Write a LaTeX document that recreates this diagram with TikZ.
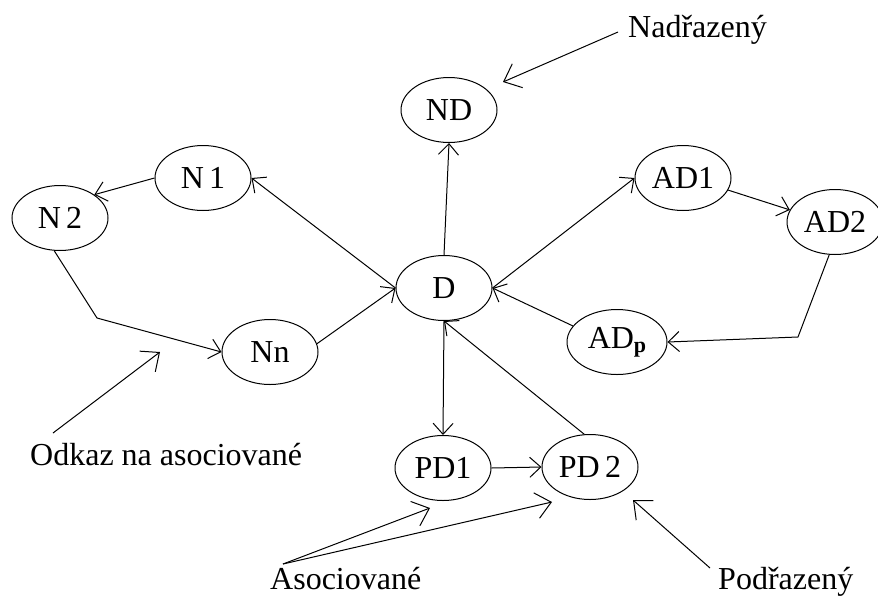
\documentclass[tikz,border=0pt]{standalone}
\usepackage{fontspec}
\setmainfont{Liberation Serif}
\usetikzlibrary{shapes.geometric,arrows.meta}
\begin{document}
\begin{tikzpicture}[x=1pt,y=-1pt,
  ent/.style={draw,ellipse,line width=1pt,minimum width=96pt,minimum height=65pt,inner sep=0pt,font=\fontsize{32}{32}\selectfont},
  lbl/.style={font=\fontsize{32}{32}\selectfont,inner sep=0pt,anchor=base west},
  link/.style={line width=1pt,-{Straight Barb[length=11pt,width=20pt,line width=1pt]}},
  pointer/.style={line width=1pt,-{Straight Barb[length=15pt,width=26pt,line width=1pt]}}]
\useasboundingbox[fill=white] (0,0) rectangle (878,598);

% entity ellipses
\node[ent] (ND)  at (449,110) {ND};
\node[ent] (N1)  at (203,178) {N\,1};
\node[ent] (N2)  at (60,218)  {N\,2};
\node[ent] (Nn)  at (270,352) {Nn};
\node[ent] (D)   at (444,288) {D};
\node[ent] (AD1) at (683,178) {AD1};
\node[ent] (AD2) at (835,222) {AD2};
\node[ent,minimum width=100pt] (ADp) at (617,342) {\makebox[60pt][c]{AD\raisebox{-4pt}{\fontsize{22}{22}\selectfont\bfseries p}}};
\node[ent] (PD1) at (443,468) {PD1};
\node[ent] (PD2) at (590,467) {PD\,2};

% free labels
\node[lbl] (nadr)  at (628,37)  {Nadřazený};
\node[lbl] (odkaz) at (30,465)  {Odkaz na asociované};
\node[lbl] (asoc)  at (270,589) {Asociované};
\node[lbl] (podr)  at (718,589) {Podřazený};

% helper points
\coordinate (bendN) at (97,318);
\coordinate (bendA) at (798,337);
\coordinate (nadrS) at (618,32);
\coordinate (nadrT) at (503,82);
\coordinate (odkS)  at (53,433);
\coordinate (odkT)  at (160,352);
\coordinate (asoS)  at (283,564);
\coordinate (asoT1) at (430,508);
\coordinate (asoT2) at (552,502);
\coordinate (podS)  at (710,568);
\coordinate (podT)  at (633,500);

% connectors between entities
\draw[link] (D.north) -- (ND.south);
\draw[link] (D.west) -- (N1.east);
\draw[link] (N1.west) -- (N2.north east);
\draw[link] (N2.-100) -- (bendN) -- (Nn.west);
\draw[link] (Nn.10) -- (D.west);
\draw[link] (D.east) -- (AD1.west);
\draw[link] (AD1.-15) -- (AD2.165);
\draw[link] (AD2.-100) -- (bendA) -- (ADp.east);
\draw[link] (ADp.160) -- (D.east);
\draw[link] (D.south) -- (PD1.north);
\draw[link] (PD2.100) -- (D.south);
\draw[link] (PD1.east) -- (PD2.west);

% label pointers
\draw[pointer] (nadrS) -- (nadrT);
\draw[pointer] (odkS) -- (odkT);
\draw[pointer] (asoS) -- (asoT1);
\draw[pointer] (asoS) -- (asoT2);
\draw[pointer] (podS) -- (podT);
\end{tikzpicture}
\end{document}
